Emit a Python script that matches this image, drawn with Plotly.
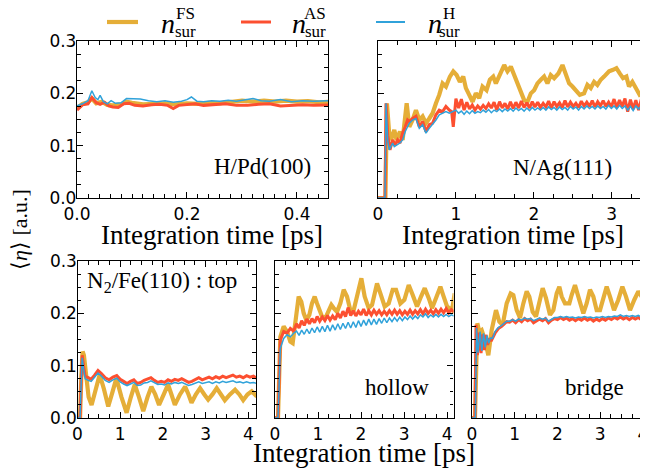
import plotly.graph_objects as go

GOLD = "#e5ae38"
RED = "#fc4f30"
BLUE = "#30a2da"

# ---------------- data: (time [ps], <eta> [a.u.]) ----------------
HPD_FS = [(0, 0.172), (0.01, 0.180), (0.02, 0.183), (0.027, 0.190), (0.035, 0.181), (0.045, 0.184),
          (0.055, 0.178), (0.065, 0.177), (0.08, 0.179), (0.09, 0.184), (0.10, 0.182), (0.12, 0.179),
          (0.14, 0.180), (0.16, 0.181), (0.18, 0.179), (0.20, 0.181), (0.22, 0.180), (0.24, 0.182),
          (0.26, 0.181), (0.28, 0.184), (0.30, 0.186), (0.32, 0.184), (0.34, 0.186), (0.36, 0.184),
          (0.38, 0.186), (0.40, 0.184), (0.42, 0.185), (0.44, 0.183), (0.46, 0.184)]
HPD_AS = [(0, 0.168), (0.01, 0.178), (0.02, 0.180), (0.027, 0.192), (0.035, 0.182), (0.042, 0.179),
          (0.05, 0.183), (0.058, 0.176), (0.065, 0.174), (0.075, 0.173), (0.085, 0.180), (0.095, 0.181),
          (0.105, 0.177), (0.12, 0.176), (0.135, 0.178), (0.15, 0.179), (0.165, 0.177), (0.175, 0.171),
          (0.185, 0.177), (0.20, 0.178), (0.215, 0.180), (0.23, 0.177), (0.25, 0.178), (0.27, 0.180),
          (0.29, 0.177), (0.31, 0.177), (0.33, 0.179), (0.35, 0.180), (0.37, 0.176), (0.39, 0.177),
          (0.41, 0.178), (0.43, 0.177), (0.46, 0.178)]
HPD_H = [(0, 0.176), (0.01, 0.180), (0.02, 0.186), (0.027, 0.205), (0.033, 0.192), (0.038, 0.188),
         (0.042, 0.196), (0.048, 0.184), (0.055, 0.180), (0.062, 0.186), (0.07, 0.181), (0.08, 0.182),
         (0.09, 0.190), (0.10, 0.190), (0.115, 0.189), (0.13, 0.186), (0.145, 0.184), (0.16, 0.186),
         (0.175, 0.183), (0.19, 0.185), (0.2, 0.188), (0.208, 0.193), (0.218, 0.185), (0.23, 0.184),
         (0.245, 0.186), (0.26, 0.185), (0.275, 0.187), (0.29, 0.185), (0.305, 0.187), (0.32, 0.190),
         (0.335, 0.186), (0.35, 0.185), (0.37, 0.188), (0.39, 0.184), (0.41, 0.186), (0.43, 0.185),
         (0.46, 0.186)]

NAG_FS = [(0, 0), (0.095, 0), (0.115, 0.181), (0.145, 0.120), (0.167, 0.111), (0.209, 0.130),
          (0.239, 0.111), (0.282, 0.127), (0.316, 0.111), (0.368, 0.181), (0.402, 0.136), (0.444, 0.149),
          (0.487, 0.168), (0.530, 0.149), (0.573, 0.156), (0.615, 0.143), (0.658, 0.152), (0.701, 0.162),
          (0.744, 0.181), (0.786, 0.197), (0.829, 0.219), (0.872, 0.213), (0.923, 0.232), (0.966, 0.242),
          (1.009, 0.235), (1.051, 0.222), (1.094, 0.232), (1.128, 0.210), (1.171, 0.197), (1.214, 0.184),
          (1.256, 0.200), (1.299, 0.191), (1.342, 0.213), (1.393, 0.206), (1.436, 0.226), (1.479, 0.232),
          (1.513, 0.219), (1.564, 0.238), (1.620, 0.254), (1.662, 0.242), (1.705, 0.251), (1.748, 0.235),
          (1.791, 0.219), (1.833, 0.206), (1.876, 0.187), (1.919, 0.184), (1.962, 0.200), (2.004, 0.206),
          (2.047, 0.219), (2.090, 0.226), (2.132, 0.232), (2.175, 0.219), (2.218, 0.235), (2.261, 0.229),
          (2.316, 0.238), (2.368, 0.254), (2.410, 0.238), (2.453, 0.219), (2.496, 0.213), (2.538, 0.206),
          (2.590, 0.197), (2.645, 0.200), (2.688, 0.216), (2.731, 0.210), (2.774, 0.222), (2.816, 0.216),
          (2.859, 0.226), (2.902, 0.232), (2.966, 0.242), (3.017, 0.245), (3.060, 0.248), (3.103, 0.238),
          (3.145, 0.229), (3.188, 0.232), (3.222, 0.213), (3.265, 0.222), (3.308, 0.210), (3.359, 0.197),
          (3.415, 0.200), (3.457, 0.206)]
NAG_AS = [(0, 0), (0.09, 0), (0.103, 0.181), (0.125, 0.120), (0.154, 0.092), (0.188, 0.111),
          (0.222, 0.101), (0.252, 0.111), (0.282, 0.105), (0.316, 0.124), (0.350, 0.136), (0.380, 0.149),
          (0.402, 0.146), (0.444, 0.152), (0.487, 0.156), (0.530, 0.136), (0.573, 0.146), (0.615, 0.127),
          (0.658, 0.140), (0.701, 0.143), (0.744, 0.159), (0.786, 0.168), (0.829, 0.165), (0.872, 0.175),
          (0.915, 0.168), (0.945, 0.165), (0.966, 0.136),
          (1.000, 0.190), (1.035, 0.172), (1.070, 0.189), (1.105, 0.168), (1.140, 0.183), (1.175, 0.170),
          (1.210, 0.178), (1.245, 0.168), (1.280, 0.176), (1.315, 0.170), (1.350, 0.177), (1.385, 0.171),
          (1.420, 0.180), (1.455, 0.172), (1.490, 0.183), (1.525, 0.168), (1.560, 0.184), (1.595, 0.172),
          (1.630, 0.181), (1.665, 0.170), (1.700, 0.184), (1.735, 0.171), (1.770, 0.183), (1.805, 0.172),
          (1.840, 0.185), (1.875, 0.173), (1.910, 0.182), (1.945, 0.172), (1.980, 0.184), (2.015, 0.174),
          (2.050, 0.183), (2.085, 0.173), (2.120, 0.181), (2.155, 0.174), (2.190, 0.185), (2.225, 0.172),
          (2.260, 0.184), (2.295, 0.175), (2.330, 0.182), (2.365, 0.173), (2.400, 0.186), (2.435, 0.174),
          (2.470, 0.183), (2.505, 0.175), (2.540, 0.181), (2.575, 0.173), (2.610, 0.185), (2.645, 0.176),
          (2.680, 0.183), (2.715, 0.175), (2.750, 0.186), (2.785, 0.174), (2.820, 0.184), (2.855, 0.176),
          (2.890, 0.186), (2.925, 0.175), (2.960, 0.183), (2.995, 0.174), (3.030, 0.189), (3.065, 0.173),
          (3.100, 0.187), (3.135, 0.175), (3.170, 0.190), (3.205, 0.165), (3.240, 0.188), (3.275, 0.170),
          (3.310, 0.187), (3.345, 0.168), (3.380, 0.189), (3.415, 0.168), (3.450, 0.187)]
NAG_H = [(0, 0), (0.09, 0), (0.103, 0.181), (0.125, 0.110), (0.145, 0.092), (0.167, 0.100),
         (0.188, 0.105), (0.209, 0.098), (0.231, 0.100), (0.252, 0.102), (0.282, 0.105), (0.316, 0.111),
         (0.350, 0.127), (0.402, 0.143), (0.444, 0.149), (0.487, 0.152), (0.530, 0.133), (0.573, 0.140),
         (0.615, 0.124), (0.658, 0.133), (0.701, 0.140), (0.744, 0.149), (0.786, 0.159), (0.829, 0.162),
         (0.872, 0.165), (0.915, 0.162), (0.958, 0.165),
         (1.000, 0.168), (1.035, 0.162), (1.070, 0.166), (1.105, 0.160), (1.140, 0.166), (1.175, 0.161),
         (1.210, 0.167), (1.245, 0.162), (1.280, 0.165), (1.315, 0.163), (1.350, 0.168), (1.385, 0.164),
         (1.420, 0.169), (1.455, 0.163), (1.490, 0.168), (1.525, 0.165), (1.560, 0.170), (1.595, 0.165),
         (1.630, 0.170), (1.665, 0.166), (1.700, 0.171), (1.735, 0.166), (1.770, 0.172), (1.805, 0.167),
         (1.840, 0.171), (1.875, 0.166), (1.910, 0.172), (1.945, 0.167), (1.980, 0.173), (2.015, 0.168),
         (2.050, 0.172), (2.085, 0.168), (2.120, 0.173), (2.155, 0.168), (2.190, 0.174), (2.225, 0.169),
         (2.260, 0.173), (2.295, 0.168), (2.330, 0.174), (2.365, 0.169), (2.400, 0.173), (2.435, 0.168),
         (2.470, 0.175), (2.505, 0.170), (2.540, 0.174), (2.575, 0.168), (2.610, 0.175), (2.645, 0.170),
         (2.680, 0.176), (2.715, 0.171), (2.750, 0.175), (2.785, 0.170), (2.820, 0.176), (2.855, 0.171),
         (2.890, 0.175), (2.925, 0.170), (2.960, 0.177), (2.995, 0.171), (3.030, 0.176), (3.065, 0.170),
         (3.100, 0.177), (3.135, 0.171), (3.170, 0.176), (3.205, 0.168), (3.240, 0.175), (3.275, 0.167),
         (3.310, 0.176), (3.345, 0.170), (3.380, 0.177), (3.415, 0.171), (3.450, 0.174)]

TOP_FS = [(0, 0), (0.06, 0), (0.09, 0.08), (0.12, 0.127), (0.15, 0.12), (0.2, 0.075), (0.26, 0.04),
          (0.33, 0.025), (0.42, 0.055), (0.52, 0.083), (0.62, 0.055), (0.72, 0.022), (0.82, 0.05),
          (0.91, 0.076), (1.03, 0.04), (1.15, 0.010), (1.25, 0.04), (1.34, 0.064), (1.44, 0.04),
          (1.54, 0.013), (1.64, 0.04), (1.73, 0.060), (1.82, 0.045), (1.91, 0.025), (2.02, 0.045),
          (2.12, 0.064), (2.2, 0.045), (2.28, 0.025), (2.40, 0.045), (2.52, 0.060), (2.60, 0.045),
          (2.67, 0.029), (2.77, 0.045), (2.87, 0.057), (2.97, 0.045), (3.06, 0.035), (3.16, 0.045),
          (3.26, 0.057), (3.36, 0.045), (3.45, 0.034), (3.57, 0.045), (3.69, 0.054), (3.79, 0.045),
          (3.88, 0.034), (3.98, 0.045), (4.08, 0.051), (4.2, 0.041)]
TOP_T = [0, 0.06, 0.09, 0.11, 0.14, 0.18, 0.25, 0.32, 0.40, 0.48, 0.56, 0.65, 0.74, 0.83, 0.92,
         1.00, 1.08, 1.16, 1.24, 1.32, 1.40, 1.48, 1.56, 1.64, 1.72, 1.80, 1.88, 1.96, 2.04, 2.12,
         2.20, 2.28, 2.36, 2.44, 2.52, 2.60, 2.68, 2.76, 2.84, 2.92, 3.00, 3.08, 3.16, 3.24, 3.32,
         3.40, 3.48, 3.56, 3.64, 3.72, 3.80, 3.88, 3.96, 4.04, 4.12, 4.20]
TOP_AS = [0, 0, 0.080, 0.120, 0.100, 0.080, 0.077, 0.074, 0.082, 0.091, 0.085, 0.077, 0.073, 0.078, 0.081,
          0.074, 0.070, 0.066, 0.070, 0.073, 0.066, 0.068, 0.072, 0.074, 0.077, 0.072, 0.068, 0.070, 0.068,
          0.073, 0.070, 0.074, 0.072, 0.075, 0.071, 0.068, 0.070, 0.074, 0.077, 0.073, 0.076, 0.078, 0.075,
          0.079, 0.076, 0.080, 0.077, 0.080, 0.082, 0.078, 0.080, 0.077, 0.081, 0.078, 0.080, 0.076]
TOP_H = [0, 0, 0.075, 0.115, 0.095, 0.075, 0.072, 0.070, 0.078, 0.086, 0.080, 0.072, 0.068, 0.073, 0.076,
         0.069, 0.065, 0.062, 0.065, 0.068, 0.062, 0.063, 0.067, 0.068, 0.071, 0.067, 0.064, 0.065, 0.063,
         0.067, 0.065, 0.068, 0.066, 0.068, 0.065, 0.062, 0.064, 0.067, 0.069, 0.066, 0.068, 0.069, 0.066,
         0.069, 0.067, 0.070, 0.068, 0.069, 0.071, 0.068, 0.069, 0.067, 0.069, 0.067, 0.068, 0.066]

HOL_FS = [(0, 0), (0.07, 0), (0.124, 0.155), (0.202, 0.175), (0.279, 0.165), (0.357, 0.146), (0.411, 0.143),
          (0.473, 0.187), (0.550, 0.232), (0.612, 0.222), (0.667, 0.200), (0.729, 0.187), (0.798, 0.197),
          (0.860, 0.219), (0.922, 0.232), (0.977, 0.219), (1.031, 0.206), (1.093, 0.194), (1.171, 0.191),
          (1.248, 0.206), (1.310, 0.216), (1.364, 0.210), (1.442, 0.203), (1.519, 0.219), (1.597, 0.245),
          (1.674, 0.232), (1.752, 0.206), (1.829, 0.206), (1.907, 0.232), (2.008, 0.267), (2.085, 0.232),
          (2.178, 0.210), (2.256, 0.216), (2.372, 0.257), (2.450, 0.238), (2.550, 0.213), (2.643, 0.219),
          (2.736, 0.245), (2.814, 0.245), (2.915, 0.219), (3.008, 0.226), (3.109, 0.254), (3.202, 0.235),
          (3.302, 0.213), (3.395, 0.232), (3.481, 0.248), (3.574, 0.229), (3.651, 0.210), (3.729, 0.226),
          (3.845, 0.251), (3.922, 0.232), (4.0, 0.213), (4.116, 0.206), (4.178, 0.238)]
HOL_AS = [(0, 0), (0.07, 0), (0.124, 0.149), (0.202, 0.165), (0.279, 0.162), (0.357, 0.171), (0.434, 0.166),
          (0.50, 0.180), (0.56, 0.172), (0.62, 0.186), (0.68, 0.177), (0.74, 0.189), (0.80, 0.180),
          (0.86, 0.190), (0.92, 0.182), (0.98, 0.194), (1.04, 0.185), (1.10, 0.193), (1.16, 0.186),
          (1.22, 0.196), (1.28, 0.187), (1.34, 0.195), (1.40, 0.188), (1.46, 0.200), (1.52, 0.191),
          (1.58, 0.204), (1.64, 0.194), (1.70, 0.211), (1.76, 0.196), (1.82, 0.205), (1.88, 0.195),
          (1.94, 0.204), (2.00, 0.197), (2.06, 0.208), (2.12, 0.196), (2.18, 0.205), (2.24, 0.197),
          (2.30, 0.206), (2.36, 0.198), (2.42, 0.205), (2.48, 0.197), (2.54, 0.204), (2.60, 0.197),
          (2.66, 0.205), (2.72, 0.198), (2.78, 0.206), (2.84, 0.198), (2.90, 0.205), (2.96, 0.197),
          (3.02, 0.204), (3.08, 0.198), (3.14, 0.206), (3.20, 0.198), (3.26, 0.205), (3.32, 0.199),
          (3.38, 0.207), (3.44, 0.199), (3.50, 0.208), (3.56, 0.200), (3.62, 0.206), (3.68, 0.199),
          (3.74, 0.207), (3.80, 0.200), (3.86, 0.208), (3.92, 0.201), (3.98, 0.209), (4.04, 0.201),
          (4.10, 0.207), (4.16, 0.203)]
HOL_H = [(0, 0), (0.07, 0), (0.124, 0.133), (0.202, 0.152), (0.279, 0.159), (0.357, 0.155), (0.434, 0.162),
         (0.50, 0.166), (0.56, 0.158), (0.62, 0.168), (0.68, 0.160), (0.74, 0.170), (0.80, 0.161),
         (0.86, 0.172), (0.92, 0.163), (0.98, 0.174), (1.04, 0.164), (1.10, 0.175), (1.16, 0.165),
         (1.22, 0.177), (1.28, 0.166), (1.34, 0.178), (1.40, 0.168), (1.46, 0.180), (1.52, 0.169),
         (1.58, 0.181), (1.64, 0.171), (1.70, 0.183), (1.76, 0.172), (1.82, 0.184), (1.88, 0.173),
         (1.94, 0.186), (2.00, 0.175), (2.06, 0.187), (2.12, 0.177), (2.18, 0.189), (2.24, 0.178),
         (2.30, 0.189), (2.36, 0.179), (2.42, 0.190), (2.48, 0.181), (2.54, 0.191), (2.60, 0.182),
         (2.66, 0.191), (2.72, 0.184), (2.78, 0.192), (2.84, 0.185), (2.90, 0.193), (2.96, 0.186),
         (3.02, 0.193), (3.08, 0.188), (3.14, 0.195), (3.20, 0.189), (3.26, 0.195), (3.32, 0.190),
         (3.38, 0.197), (3.44, 0.193), (3.50, 0.199), (3.56, 0.192), (3.62, 0.197), (3.68, 0.193),
         (3.74, 0.198), (3.80, 0.193), (3.86, 0.198), (3.92, 0.194), (3.98, 0.198), (4.04, 0.194),
         (4.10, 0.197), (4.16, 0.195)]

BRI_FS = [(0, 0), (0.07, 0), (0.125, 0.181), (0.172, 0.165), (0.226, 0.168), (0.304, 0.149), (0.382, 0.120),
          (0.460, 0.168), (0.561, 0.206), (0.639, 0.184), (0.717, 0.178), (0.811, 0.219), (0.904, 0.238),
          (0.967, 0.235), (1.045, 0.206), (1.123, 0.191), (1.201, 0.219), (1.279, 0.242), (1.341, 0.232),
          (1.419, 0.203), (1.497, 0.194), (1.591, 0.226), (1.653, 0.248), (1.731, 0.229), (1.825, 0.197),
          (1.903, 0.206), (1.981, 0.238), (2.043, 0.251), (2.098, 0.232), (2.175, 0.219), (2.277, 0.219),
          (2.331, 0.235), (2.409, 0.254), (2.487, 0.232), (2.604, 0.200), (2.682, 0.219), (2.760, 0.245),
          (2.838, 0.232), (2.916, 0.206), (2.994, 0.206), (3.072, 0.232), (3.150, 0.251), (3.228, 0.232),
          (3.322, 0.206), (3.423, 0.226), (3.517, 0.251), (3.602, 0.232), (3.696, 0.206), (3.797, 0.226),
          (3.891, 0.242), (3.969, 0.232), (4.070, 0.208), (4.117, 0.210)]
BRI_AS = [(0, 0), (0.07, 0), (0.094, 0.178), (0.125, 0.120), (0.172, 0.163), (0.211, 0.124), (0.250, 0.160),
          (0.289, 0.130), (0.327, 0.159), (0.367, 0.140), (0.405, 0.150), (0.460, 0.149), (0.538, 0.162),
          (0.616, 0.171), (0.694, 0.175), (0.811, 0.184),
          (0.88, 0.183), (0.95, 0.187), (1.02, 0.182), (1.09, 0.188), (1.16, 0.184), (1.23, 0.190),
          (1.30, 0.186), (1.37, 0.189), (1.44, 0.182), (1.51, 0.186), (1.58, 0.189), (1.65, 0.186),
          (1.72, 0.190), (1.79, 0.182), (1.86, 0.187), (1.93, 0.190), (2.00, 0.188), (2.07, 0.192),
          (2.14, 0.188), (2.21, 0.191), (2.28, 0.187), (2.35, 0.190), (2.42, 0.186), (2.49, 0.190),
          (2.56, 0.187), (2.63, 0.191), (2.70, 0.187), (2.77, 0.190), (2.84, 0.185), (2.91, 0.189),
          (2.98, 0.186), (3.05, 0.190), (3.12, 0.187), (3.19, 0.191), (3.26, 0.188), (3.33, 0.192),
          (3.40, 0.189), (3.47, 0.193), (3.54, 0.189), (3.61, 0.192), (3.68, 0.188), (3.75, 0.192),
          (3.82, 0.189), (3.89, 0.192), (3.96, 0.188), (4.03, 0.191), (4.10, 0.189)]
BRI_H = [(0, 0), (0.08, 0), (0.105, 0.172), (0.14, 0.125), (0.19, 0.165), (0.23, 0.128), (0.27, 0.162),
         (0.31, 0.135), (0.35, 0.158), (0.39, 0.143), (0.43, 0.153), (0.48, 0.152), (0.538, 0.165),
         (0.616, 0.173), (0.694, 0.177), (0.811, 0.185),
         (0.88, 0.185), (0.95, 0.188), (1.02, 0.185), (1.09, 0.189), (1.16, 0.187), (1.23, 0.191),
         (1.30, 0.189), (1.37, 0.190), (1.44, 0.186), (1.51, 0.188), (1.58, 0.191), (1.65, 0.189),
         (1.72, 0.191), (1.79, 0.185), (1.86, 0.189), (1.93, 0.192), (2.00, 0.192), (2.07, 0.194),
         (2.14, 0.192), (2.21, 0.194), (2.28, 0.192), (2.35, 0.193), (2.42, 0.191), (2.49, 0.193),
         (2.56, 0.192), (2.63, 0.194), (2.70, 0.192), (2.77, 0.193), (2.84, 0.191), (2.91, 0.193),
         (2.98, 0.192), (3.05, 0.194), (3.12, 0.192), (3.19, 0.194), (3.26, 0.193), (3.33, 0.195),
         (3.40, 0.194), (3.47, 0.197), (3.54, 0.194), (3.61, 0.196), (3.68, 0.194), (3.75, 0.196),
         (3.82, 0.194), (3.89, 0.196), (3.96, 0.193), (4.03, 0.195), (4.10, 0.194)]

PANEL_LABELS = ["H/Pd(100)", "N/Ag(111)", "N<sub>2</sub>/Fe(110) : top", "hollow", "bridge"]
LEGEND_SUPS = ["FS", "AS", "H"]
X_TITLE = "Integration time [ps]"
Y_TITLE = "⟨<i>η</i>⟩ [a.u.]"

# ---------------- figure ----------------
W, H = 648, 469
OFF = 8  # the page body's default margin shifts the figure by this many px
SERIF = "Liberation Serif, Times New Roman, serif"
SANS = "DejaVu Sans, sans-serif"


def px(x):
    return (x - OFF) / W


def py(y):
    return 1 - (y - OFF) / H


def split(pairs):
    return [p[0] for p in pairs], [p[1] for p in pairs]


fig = go.Figure()

# panel: (axis suffix, x-domain px, y-domain px, x range max, x dtick, x minor, tickformat, show y labels)
panels = [
    ("", (77, 328), (41, 198), 0.4564, 0.2, 0.02, ".1f", True),
    ("2", (378, 646), (41, 198), 3.44, 1, 0.25, "d", False),
    ("3", (77.5, 256), (261, 418), 4.18, 1, 0.25, "d", True),
    ("4", (275, 453.5), (261, 418), 4.15, 1, 0.25, "d", False),
    ("5", (472, 646), (261, 418), 4.07, 1, 0.25, "d", False),
]

series = [
    (split(HPD_FS), split(HPD_AS), split(HPD_H)),
    (split(NAG_FS), split(NAG_AS), split(NAG_H)),
    (split(TOP_FS), (TOP_T, TOP_AS), (TOP_T, TOP_H)),
    (split(HOL_FS), split(HOL_AS), split(HOL_H)),
    (split(BRI_FS), split(BRI_AS), split(BRI_H)),
]

styles = [(GOLD, 4.2), (RED, 3.0), (BLUE, 1.5)]

layout_axes = {}
for (suf, xd, yd, xmax, dt, mdt, fmt, showy), ser in zip(panels, series):
    for (xs, ys), (col, wd) in zip(ser, styles):
        fig.add_trace(go.Scatter(x=xs, y=ys, mode="lines",
                                 line=dict(color=col, width=wd),
                                 xaxis="x" + suf, yaxis="y" + suf,
                                 showlegend=False, hoverinfo="skip"))
    common = dict(showline=True, linecolor="black", linewidth=1.3, mirror="ticks",
                  ticks="inside", ticklen=6, tickwidth=1.2, tickcolor="black",
                  showgrid=False, zeroline=False, automargin=False,
                  tickfont=dict(family=SANS, size=17, color="black"))
    layout_axes["xaxis" + suf] = dict(common, domain=[px(xd[0]), px(xd[1])], range=[0, xmax],
                                      anchor="y" + suf, tick0=0, dtick=dt, tickformat=fmt,
                                      minor=dict(ticks="inside", ticklen=3.5, tickwidth=1,
                                                 tickcolor="black", dtick=mdt))
    layout_axes["yaxis" + suf] = dict(common, domain=[py(yd[1]), py(yd[0])], range=[0, 0.3],
                                      anchor="x" + suf, tick0=0, dtick=0.1, tickformat=".1f",
                                      showticklabels=showy, ticklabelstandoff=-4,
                                      minor=dict(ticks="inside", ticklen=3.5, tickwidth=1,
                                                 tickcolor="black", dtick=0.025))

fig.update_layout(template="none", **layout_axes)

ann = []
# panel labels
label_pos = [(262, 166, "center"), (562, 167, "center"), (85, 282, "left"),
             (397, 387, "center"), (594, 387, "center")]
for text, (x, y, xa) in zip(PANEL_LABELS, label_pos):
    ann.append(dict(text=text, x=px(x), y=py(y), xref="paper", yref="paper",
                    xanchor=xa, yanchor="middle", showarrow=False,
                    font=dict(family=SERIF, size=23, color="black")))
# axis titles
for (x, y) in [(212, 235), (513, 235), (364, 453)]:
    ann.append(dict(text=X_TITLE, x=px(x), y=py(y), xref="paper", yref="paper",
                    xanchor="center", yanchor="middle", showarrow=False,
                    font=dict(family=SERIF, size=27, color="black")))
ann.append(dict(text=Y_TITLE, x=px(20), y=py(230), xref="paper", yref="paper",
                xanchor="center", yanchor="middle", showarrow=False, textangle=-90,
                font=dict(family=SERIF, size=22, color="black")))

# legend (manual: line sample + n with stacked super/subscript)
leg = [(107, 138, 168, 185), (241, 271, 299, 315), (376, 405, 435, 449)]
for (x0, x1, nx, sx), sup, (col, wd) in zip(leg, LEGEND_SUPS, styles):
    fig.add_shape(type="line", xref="paper", yref="paper", x0=px(x0), x1=px(x1),
                  y0=py(22), y1=py(22), line=dict(color=col, width=wd if wd > 2 else 2))
    ann.append(dict(text="<i>n</i>", x=px(nx), y=py(23), xref="paper", yref="paper",
                    xanchor="center", yanchor="middle", showarrow=False,
                    font=dict(family=SERIF, size=28, color="black")))
    ann.append(dict(text=sup, x=px(sx), y=py(14), xref="paper", yref="paper",
                    xanchor="center", yanchor="middle", showarrow=False,
                    font=dict(family=SERIF, size=17, color="black")))
    ann.append(dict(text="sur", x=px(sx), y=py(31), xref="paper", yref="paper",
                    xanchor="center", yanchor="middle", showarrow=False,
                    font=dict(family=SERIF, size=17, color="black")))

fig.update_layout(width=W, height=H, margin=dict(l=0, r=0, t=0, b=0, pad=0, autoexpand=False),
                  paper_bgcolor="white", plot_bgcolor="white",
                  showlegend=False, annotations=ann, hovermode=False)

fig.write_html("out.html")
